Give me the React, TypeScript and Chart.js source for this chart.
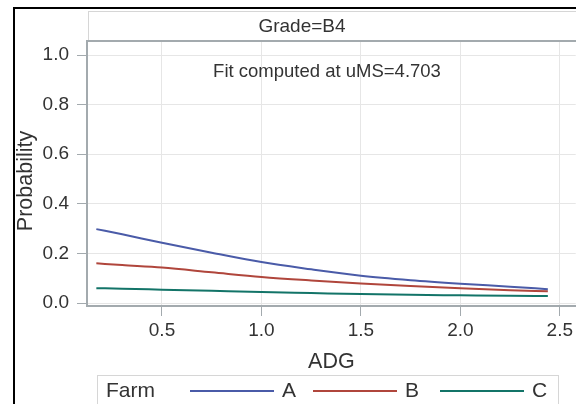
import { useEffect, useRef } from "react";
import { Chart, registerables } from "chart.js";

Chart.register(...registerables);

// ---- data ----
const adg = [0.17, 0.3, 0.5, 0.75, 1.0, 1.25, 1.5, 1.75, 2.0, 2.25, 2.44];
const farmA = [0.298, 0.277, 0.243, 0.203, 0.165, 0.136, 0.11, 0.092, 0.078, 0.066, 0.056];
const farmB = [0.16, 0.153, 0.143, 0.124, 0.105, 0.091, 0.079, 0.069, 0.06, 0.052, 0.047];
const farmC = [0.06, 0.058, 0.054, 0.049, 0.044, 0.04, 0.036, 0.033, 0.031, 0.029, 0.028];
const farmNames = ["A", "B", "C"];
const farmColors = ["#4A5BA8", "#B0463C", "#137468"];
const xTicks = [0.5, 1.0, 1.5, 2.0, 2.5];
const yTicks = [0.0, 0.2, 0.4, 0.6, 0.8, 1.0];
const panelTitle = "Grade=B4";
const fitNote = "Fit computed at uMS=4.703";
const legendTitle = "Farm";
const xTitle = "ADG";
const yTitle = "Probability";

const FONT = "'Liberation Sans', Arial, sans-serif";
const TEXT = "#333333";
const AXIS = "#A3AAAE";
const GRID = "#E6E6E6";

const decorPlugin = {
  id: "decor",
  beforeDraw(chart: any) {
    const { ctx } = chart;
    ctx.save();
    ctx.fillStyle = "#ffffff";
    ctx.fillRect(0, 0, chart.width, chart.height);
    // outer black frame
    ctx.strokeStyle = "#000000";
    ctx.lineWidth = 2;
    ctx.strokeRect(14, 8, 800, 600);
    // header strip
    ctx.strokeStyle = "#D6D6D6";
    ctx.lineWidth = 1;
    ctx.strokeRect(88.5, 11.5, 700, 30);
    ctx.fillStyle = TEXT;
    ctx.font = `19px ${FONT}`;
    ctx.textAlign = "center";
    ctx.textBaseline = "middle";
    ctx.fillText(panelTitle, 302, 27);
    ctx.restore();
  },
  afterDraw(chart: any) {
    const { ctx, chartArea } = chart;
    ctx.save();
    // top frame of the plot
    ctx.strokeStyle = AXIS;
    ctx.lineWidth = 2;
    ctx.beginPath();
    ctx.moveTo(chartArea.left - 1, chartArea.top);
    ctx.lineTo(chartArea.right + 2, chartArea.top);
    ctx.stroke();
    // y axis title
    ctx.fillStyle = TEXT;
    ctx.font = `21.5px ${FONT}`;
    ctx.textAlign = "center";
    ctx.textBaseline = "middle";
    ctx.save();
    ctx.translate(26, 181);
    ctx.rotate(-Math.PI / 2);
    ctx.fillText(yTitle, 0, 0);
    ctx.restore();
    // fit note
    ctx.font = `18.5px ${FONT}`;
    ctx.fillText(fitNote, 327, 72);
    // legend
    ctx.strokeStyle = "#D6D6D6";
    ctx.lineWidth = 1;
    ctx.strokeRect(97.5, 375.5, 461, 40);
    ctx.font = `21px ${FONT}`;
    ctx.textAlign = "left";
    ctx.fillStyle = TEXT;
    ctx.fillText(legendTitle, 106, 391);
    const starts = [190, 313, 440];
    chart.data.datasets.forEach((ds: any, i: number) => {
      const x0 = starts[i];
      ctx.strokeStyle = ds.borderColor;
      ctx.lineWidth = 2;
      ctx.beginPath();
      ctx.moveTo(x0, 391);
      ctx.lineTo(x0 + 84, 391);
      ctx.stroke();
      ctx.fillStyle = TEXT;
      ctx.fillText(ds.label, x0 + 92, 391);
    });
    ctx.restore();
  },
};

export default function App() {
  const ref = useRef<HTMLCanvasElement>(null);
  useEffect(() => {
    if (!ref.current) return;
    const series = [farmA, farmB, farmC];
    const chart = new Chart(ref.current, {
      type: "line",
      data: {
        datasets: series.map((s, i) => ({
          label: farmNames[i],
          data: s.map((v, j) => ({ x: adg[j], y: v })),
          borderColor: farmColors[i],
          backgroundColor: farmColors[i],
          borderWidth: 2,
          pointRadius: 0,
          cubicInterpolationMode: "monotone" as const,
          fill: false,
        })),
      },
      plugins: [decorPlugin],
      options: {
        animation: false,
        responsive: false,
        maintainAspectRatio: false,
        layout: { padding: { top: 41, left: 0, right: 0, bottom: 0 } },
        plugins: { legend: { display: false }, tooltip: { enabled: false } },
        scales: {
          x: {
            type: "linear",
            min: 0.123,
            max: 2.58,
            afterBuildTicks: (s: any) => {
              s.ticks = xTicks.map((v) => ({ value: v }));
            },
            afterFit: (s: any) => {
              s.height = 98;
            },
            ticks: {
              font: { family: FONT, size: 19 },
              color: TEXT,
              padding: 3,
              maxRotation: 0,
              callback: (v: any) => Number(v).toFixed(1),
            },
            grid: { color: GRID, tickColor: AXIS, tickLength: 10, lineWidth: 1 },
            border: { color: AXIS, width: 2 },
            title: {
              display: true,
              text: xTitle,
              font: { family: FONT, size: 21.5 },
              color: TEXT,
              padding: { top: 0, bottom: 29 },
            },
          },
          y: {
            type: "linear",
            min: -0.012,
            max: 1.0565,
            afterBuildTicks: (s: any) => {
              s.ticks = yTicks.map((v) => ({ value: v }));
            },
            afterFit: (s: any) => {
              s.width = 87;
            },
            ticks: {
              font: { family: FONT, size: 19 },
              color: TEXT,
              padding: 8,
              callback: (v: any) => Number(v).toFixed(1),
            },
            grid: { color: GRID, tickColor: AXIS, tickLength: 10, lineWidth: 1 },
            border: { color: AXIS, width: 2 },
            title: { display: false, text: yTitle },
          },
        },
      },
    });
    return () => chart.destroy();
  }, []);
  return (
    <div style={{ position: "fixed", left: 0, top: 0, width: 576, height: 404, background: "#fff" }}>
      <canvas ref={ref} width={576} height={404} style={{ display: "block", width: 576, height: 404 }} />
    </div>
  );
}
